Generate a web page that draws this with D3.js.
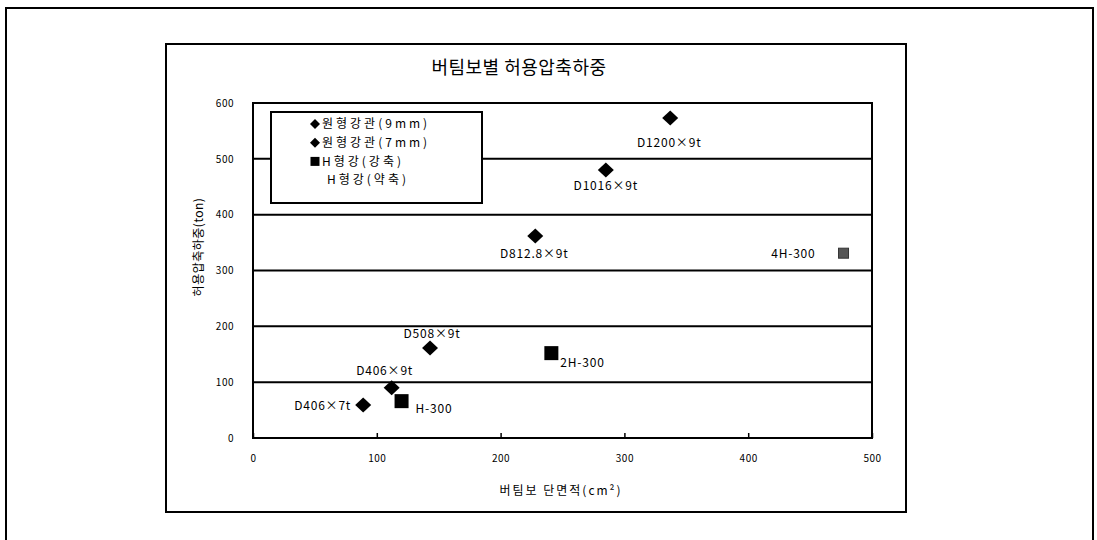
<!DOCTYPE html>
<html>
<head>
<meta charset="utf-8">
<script src="https://cdn.jsdelivr.net/npm/d3@7"></script>
<style>
  body { margin: 0; background: #fff; }
  svg text { font-family: "Noto Sans CJK KR", "DejaVu Sans", sans-serif; fill: #000; }
</style>
</head>
<body>
<div id="chart"></div>
<script>
const chartTitle = "버팀보별 허용압축하중";
const xTitle = "버팀보 단면적(cm²)";
const yTitle = "허용압축하중(ton)";
const xTicks = [0, 100, 200, 300, 400, 500];
const yTicks = [0, 100, 200, 300, 400, 500, 600];

const seriesNames = ["원형강관(9mm)", "원형강관(7mm)", "H형강(강축)", "H형강(약축)"];

// 원형강관 9mm
const pipe9Names = ["D1200×9t", "D1016×9t", "D812.8×9t", "D508×9t", "D406×9t"];
const pipe9Area = [337, 285, 228, 143, 112];
const pipe9Load = [573, 480, 362, 161, 90];

// 원형강관 7mm
const pipe7Names = ["D406×7t"];
const pipe7Area = [89];
const pipe7Load = [59];

// H형강 강축
const hStrongNames = ["H-300", "2H-300"];
const hStrongArea = [120, 241];
const hStrongLoad = [66, 152];

// H형강 약축
const hWeakNames = ["4H-300"];
const hWeakArea = [477];
const hWeakLoad = [331];

// label placement relative to marker (px)
const labelPos = {
  "D1200×9t": [-1, 25, "middle"],
  "D1016×9t": [0, 16, "middle"],
  "D812.8×9t": [-1, 18, "middle"],
  "D508×9t": [2, -14, "middle"],
  "D406×9t": [-7, -17, "middle"],
  "D406×7t": [-12, 1, "end"],
  "H-300": [14, 8, "start"],
  "2H-300": [9, 10, "start"],
  "4H-300": [-28, 1, "end"]
};

const W = 1097, H = 540;
const plot = { left: 253, right: 872, top: 103, bottom: 438 };

const svg = d3.select("#chart").append("svg")
  .attr("width", W).attr("height", H);

// outer frame (page border)
svg.append("path")
  .attr("d", `M6,${H} V8 H1093 V${H}`)
  .attr("fill", "none").attr("stroke", "#000").attr("stroke-width", 2);

// chart box
svg.append("rect")
  .attr("x", 166).attr("y", 44).attr("width", 740).attr("height", 468)
  .attr("fill", "none").attr("stroke", "#000").attr("stroke-width", 2);

svg.append("text")
  .attr("x", 519).attr("y", 74)
  .attr("text-anchor", "middle")
  .attr("font-size", 18)
  .attr("letter-spacing", 0.5)
  .text(chartTitle);

const x = d3.scaleLinear().domain([0, 500]).range([plot.left, plot.right]);
const y = d3.scaleLinear().domain([0, 600]).range([plot.bottom, plot.top]);

// gridlines
svg.append("g")
  .selectAll("line")
  .data(yTicks.filter(d => d > 0 && d < 600))
  .join("line")
  .attr("x1", plot.left).attr("x2", plot.right)
  .attr("y1", d => y(d)).attr("y2", d => y(d))
  .attr("stroke", "#000").attr("stroke-width", 2);

// plot border
svg.append("rect")
  .attr("x", plot.left).attr("y", plot.top)
  .attr("width", plot.right - plot.left).attr("height", plot.bottom - plot.top)
  .attr("fill", "none").attr("stroke", "#000").attr("stroke-width", 2);

// x axis - ticks point inward
const xAxis = svg.append("g")
  .attr("transform", `translate(0,${plot.bottom})`)
  .call(d3.axisBottom(x).tickValues(xTicks).tickSizeInner(-5).tickSizeOuter(0).tickPadding(17));
xAxis.select(".domain").remove();
xAxis.selectAll("line").attr("stroke-width", 1.5);
xAxis.selectAll("text").attr("font-family", "DejaVu Sans, sans-serif").attr("font-size", 10).attr("letter-spacing", 0.5);

const yAxis = svg.append("g")
  .attr("transform", `translate(${plot.left},0)`)
  .call(d3.axisLeft(y).tickValues(yTicks).tickSize(0).tickPadding(19));
yAxis.select(".domain").remove();
yAxis.selectAll("text").attr("font-family", "DejaVu Sans, sans-serif").attr("font-size", 10).attr("letter-spacing", 0.5);

// axis titles
svg.append("text")
  .attr("x", 561).attr("y", 495)
  .attr("text-anchor", "middle")
  .attr("font-size", 12)
  .attr("letter-spacing", 2)
  .text(xTitle);

svg.append("text")
  .attr("transform", "translate(203,247) rotate(-90)")
  .attr("text-anchor", "middle")
  .attr("font-size", 12)
  .attr("letter-spacing", 0.5)
  .text(yTitle);

// wide diamond like the original spreadsheet marker
const diamondPath = (w, h) => `M0,${-h}L${w},0L0,${h}L${-w},0Z`;
const toPoints = (names, xs, ys) => names.map((n, i) => ({ name: n, area: xs[i], load: ys[i] }));

const groups = [
  { pts: toPoints(pipe9Names, pipe9Area, pipe9Load), shape: "diamond", color: "#000" },
  { pts: toPoints(pipe7Names, pipe7Area, pipe7Load), shape: "diamond", color: "#000" },
  { pts: toPoints(hStrongNames, hStrongArea, hStrongLoad), shape: "square", color: "#000" },
  { pts: toPoints(hWeakNames, hWeakArea, hWeakLoad), shape: "squareSmall", color: "#555" }
];

groups.forEach(g => {
  const sel = svg.append("g").selectAll("g").data(g.pts).join("g")
    .attr("transform", d => `translate(${x(d.area)},${y(d.load)})`);
  if (g.shape === "diamond") {
    sel.append("path").attr("d", diamondPath(8, 7.5)).attr("fill", g.color);
  } else if (g.shape === "square") {
    sel.append("rect").attr("x", -7).attr("y", -7).attr("width", 14).attr("height", 14).attr("fill", g.color);
  } else {
    sel.append("rect").attr("x", -5).attr("y", -5).attr("width", 10).attr("height", 10)
      .attr("fill", g.color).attr("stroke", "#333").attr("stroke-width", 1);
  }
  sel.append("text")
    .attr("x", d => labelPos[d.name][0])
    .attr("y", d => labelPos[d.name][1])
    .attr("dy", "0.35em")
    .attr("text-anchor", d => labelPos[d.name][2])
    .attr("font-family", "DejaVu Sans, sans-serif")
    .attr("font-size", 12)
    .attr("letter-spacing", 0.8)
    .text(d => d.name);
});

// legend
const legend = svg.append("g");
legend.append("rect")
  .attr("x", 271).attr("y", 112).attr("width", 211).attr("height", 91)
  .attr("fill", "#fff").attr("stroke", "#000").attr("stroke-width", 2);

const legendRows = legend.selectAll("g").data(seriesNames).join("g")
  .attr("transform", (d, i) => `translate(315,${124 + i * 18.7})`);

legendRows.each(function (d, i) {
  const row = d3.select(this);
  if (i < 2) {
    row.append("path").attr("d", diamondPath(5, 5)).attr("fill", "#000");
  } else if (i === 2) {
    row.append("rect").attr("x", -4.5).attr("y", -4.5).attr("width", 9).attr("height", 9).attr("fill", "#000");
  }
  row.append("text")
    .attr("x", i === 3 ? 12 : 7)
    .attr("dy", "0.35em")
    .attr("font-size", 12)
    .attr("letter-spacing", 3)
    .text(d);
});
</script>
</body>
</html>
